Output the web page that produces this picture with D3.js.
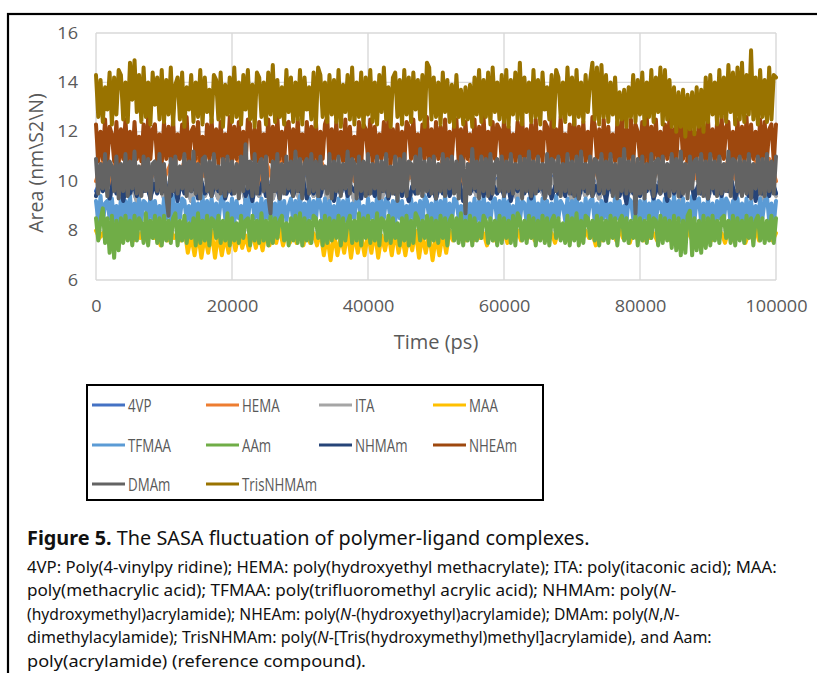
<!DOCTYPE html>
<html><head><meta charset="utf-8">
<script src="https://cdn.jsdelivr.net/npm/d3@7"></script>
<style>body{margin:0;background:#fff}svg{display:block}</style>
</head><body>
<svg id="c" width="817" height="673"></svg>
<script>
// ---------------- DATA ----------------
const seriesNames = ["4VP","HEMA","ITA","MAA","TFMAA","AAm","NHMAm","NHEAm","DMAm","TrisNHMAm"];
const seriesColors = ["#4472C4","#ED7D31","#A5A5A5","#FFC000","#5B9BD5","#70AD47","#264478","#9E480E","#636363","#997300"];
const xTickValues = [0,20000,40000,60000,80000,100000];
const yTickValues = [6,8,10,12,14,16];
const timeMax = 100000;

const s4VP = [
9.6,10.2,9.3,10.3,9.5,10.1,9.2,10.2,9.4,10.3,
9.3,10.1,9.5,10.2,9.2,10.3,9.4,10.0,9.3,10.2,
9.5,10.3,9.2,10.1,9.4,10.2,9.3,10.3,9.5,10.1,
9.2,10.2,9.4,10.3,9.3,10.1,9.5,10.2,9.2,10.4,
9.4,10.1,9.3,10.2,9.5,10.3,9.2,10.1,9.4,10.2,
9.3,10.3,9.5,10.1,9.2,10.2,9.4,10.3,9.3,10.1,
9.5,10.2,9.2,10.3,9.4,10.0,9.3,10.2,9.5,10.3,
9.2,10.1,9.4,10.2,9.3,10.3,9.5,10.1,9.2,10.2,
9.4,10.3,9.3,10.1,9.5,10.2,9.2,10.3,9.4,10.1,
9.3,10.2,9.5,10.3,9.2,10.1,9.4,10.2,9.3,10.3,
9.5];
const sHEMA = [
10.0,10.8,9.9,10.9,10.1,10.7,9.8,10.8,10.0,10.9,
10.1,10.7,9.9,10.8,10.0,10.9,10.2,10.7,9.9,10.8,
10.0,10.9,10.1,10.7,9.9,10.8,10.0,10.9,10.1,10.6,
9.9,10.8,10.0,10.9,10.1,10.7,9.9,10.8,10.0,10.9,
10.1,10.7,9.9,10.8,10.0,10.9,10.1,10.7,9.8,10.8,
10.0,10.9,10.1,10.7,9.9,10.8,10.0,11.1,10.1,10.7,
9.9,10.8,10.0,10.9,10.1,10.7,9.9,10.8,10.0,10.9,
10.1,10.7,9.9,10.8,10.0,10.9,10.1,10.7,9.9,10.8,
10.0,10.9,10.1,10.7,9.9,10.8,10.0,10.9,10.1,10.7,
9.9,10.8,10.0,10.9,10.1,10.7,9.9,10.8,10.0,10.9,
10.0];
const sITA = [
9.4,10.1,9.3,10.2,9.5,10.0,9.2,10.1,9.4,10.2,
9.3,10.0,9.5,10.1,9.2,10.2,9.4,10.0,9.3,10.1,
9.5,10.2,9.2,10.0,9.4,10.1,9.3,10.2,9.5,10.0,
9.2,10.1,9.4,10.2,9.3,10.0,9.5,10.1,9.2,10.2,
9.4,10.0,9.3,10.1,9.5,10.2,9.2,10.0,9.4,10.1,
9.3,10.2,9.5,10.0,9.2,10.1,9.4,10.2,9.3,10.0,
9.5,10.1,9.2,10.2,9.4,10.0,9.3,10.1,9.5,10.2,
9.2,10.0,9.4,10.1,9.3,10.2,9.5,10.0,9.2,10.1,
9.4,10.2,9.3,10.0,9.5,10.1,9.2,10.2,9.4,10.0,
9.3,10.1,9.5,10.2,9.2,10.0,9.4,10.1,9.3,10.2,
9.4];
const sMAA = [
8.0,7.7,7.9,7.6,8.1,7.7,7.9,7.6,8.0,7.7,
7.9,7.6,8.0,7.7,8.1,7.6,7.9,7.7,8.0,7.4,
7.9,7.6,8.0,7.7,7.9,7.6,8.1,7.1,7.8,7.0,
7.9,6.9,7.8,7.1,8.0,6.9,7.9,7.0,7.8,7.1,
8.0,7.2,7.9,7.3,7.8,7.2,8.0,7.3,7.9,7.2,
8.0,7.4,7.9,7.5,8.1,7.4,7.9,7.5,8.0,7.5,
7.9,7.4,8.0,7.5,7.9,7.4,8.0,7.0,7.8,6.8,
7.9,7.0,7.8,7.1,8.0,6.9,7.9,7.1,7.8,7.0,
7.9,7.1,8.0,6.9,7.8,7.2,7.9,7.0,8.0,7.1,
7.8,7.0,7.9,7.2,8.0,6.9,7.8,7.1,7.9,6.8,
7.8,7.0,7.9,7.1,8.0,7.6,7.9,7.7,8.0,7.6,
7.9,7.6,8.0,7.7,7.9,7.4,8.1,7.6,7.9,7.7,
8.0,7.5,7.9,7.7,8.0,7.6,7.9,7.7,8.1,7.6,
7.9,7.7,8.0,7.6,7.9,7.5,8.0,7.7,7.9,7.6,
8.1,7.7,7.9,7.6,8.0,7.7,7.9,7.4,8.0,7.6,
7.9,7.7,8.0,7.6,8.1,7.7,7.9,7.5,8.0,7.7,
7.9,7.6,8.0,7.7,7.9,7.6,8.1,7.7,7.9,7.6,
8.0,7.7,7.9,7.6,8.0,7.7,7.9,7.6,8.1,7.7,
7.9,7.6,8.0,7.7,7.9,7.5,8.0,7.6,7.9,7.7,
8.0,7.5,7.9,7.7,8.1,7.6,7.9,7.7,8.0,7.6,
7.9];
const sTFMAA = [
9.2,8.4,9.4,8.3,9.1,9.2,8.5,9.3,8.4,9.0,8.3,9.3,8.5,9.2,8.4,
9.4,8.3,9.1,8.5,9.3,8.4,9.2,9.1,8.3,9.4,8.5,9.2,8.4,9.0,8.3,
9.3,8.5,9.2,8.4,9.4,8.3,9.1,8.5,9.3,9.2,8.4,9.0,8.3,9.3,8.5,
9.1,8.4,9.4,8.3,9.2,8.5,9.3,8.4,9.1,8.3,9.2,9.4,8.5,9.1,8.4,
9.3,8.3,9.2,8.5,9.0,8.4,9.3,8.3,9.4,9.2,8.5,9.1,8.4,9.3,8.3,
9.2,8.5,9.4,8.4,9.1,8.3,9.3,8.5,9.2,8.4,9.0,9.3,8.3,9.2,8.5,
9.4,8.4,9.1,8.3,9.3,8.5,9.2,8.4,9.4,9.1,8.3,9.3,8.5,9.2,8.4,
9.0,8.3,9.3,8.5,9.2,8.4,9.4,8.3,9.1,8.5,9.3,9.2,8.4,9.0,8.3,
9.3,8.5,9.1,8.4,9.4,8.3,9.2,8.5,9.3,9.1,8.4,9.2,8.3,9.4,8.5,
9.2,8.4,9.0,8.3,9.3,8.5,9.1,8.4,9.2,8.3,9.4,9.2,8.5,9.1,8.4,
9.3,8.3,9.2,8.5,9.4,8.4,9.1,8.3,9.3,9.2,8.5,9.0,8.4,9.3,8.3,
9.1,8.5,9.3,8.4,9.2,8.3,9.4,8.5,9.1,8.4,9.2,9.3,8.3,9.2,8.5,
9.4,8.4,9.2,8.3,9.0,8.5,9.3,8.4,9.2,9.1,8.3,9.3,8.5,9.4,8.4,
9.1,8.3,9.3,8.5,9.2,8.4,9.1,8.3,9.4,8.5,9.2,9.0,8.4,9.3,8.3,
9.2,8.5,9.4,8.4,9.1,8.3,9.3,8.5,9.2,9.3,8.4,9.1,8.3,9.2,8.5,
9.3,8.4,9.1,8.3,9.4,8.5,9.2,8.4,9.0,8.3,9.3,9.2,8.5,9.1,8.4,
9.2,8.3,9.3,8.5,9.1,8.4,9.4,8.3,9.2,9.1,8.5,9.3,8.4,9.2,8.3,
9.4,8.5,9.2,8.4,9.3,8.3,9.1,8.5,9.4,8.4,9.2,9.3,8.3,9.1,8.5,
9.3,8.4,9.1,8.3,9.2,8.5,9.4,8.4,9.3,9.1,8.3,9.2,8.5,9.3,8.4,
9.1,8.3,9.3,8.5,9.2,8.4,9.0,8.3,9.3,8.5,9.2,9.4,8.4,9.1,8.3,
9.2];
const sAAm = [
8.5,7.6,8.4,8.9,7.5,8.5,7.1,8.6,6.9,8.4,7.2,8.5,7.5,8.6,7.6,
8.4,7.4,8.6,7.6,8.5,8.3,7.5,8.7,7.4,8.4,7.7,8.6,7.5,8.5,7.4,
8.6,7.6,8.4,7.5,8.5,8.7,7.4,8.4,7.6,8.6,7.5,8.3,7.7,8.5,7.4,
8.7,7.5,8.4,7.6,8.6,7.4,8.5,8.4,7.7,8.6,7.5,8.4,7.6,8.7,7.4,
8.5,7.6,8.3,7.5,8.6,7.7,8.4,8.5,7.4,8.6,7.6,8.4,7.5,8.7,7.6,
8.4,7.4,8.6,7.5,8.5,7.7,8.4,8.6,7.6,8.3,7.4,8.5,7.6,8.6,7.5,
8.7,7.4,8.5,7.6,8.4,7.5,8.6,8.5,7.7,8.4,7.4,8.6,7.5,8.5,7.6,
8.4,7.7,8.6,7.4,8.5,7.6,8.3,8.6,7.5,8.4,7.6,8.7,7.4,8.5,7.7,
8.6,7.5,8.4,7.6,8.7,7.4,8.5,8.4,7.6,8.6,7.5,8.5,7.7,8.3,7.4,
8.5,7.6,8.6,7.4,8.4,7.5,8.7,8.5,7.6,8.4,7.7,8.6,7.4,8.5,7.6,
8.4,7.5,8.6,7.7,8.5,7.4,8.4,8.6,7.6,8.5,7.5,8.7,7.4,8.4,7.6,
8.6,7.4,8.5,7.6,8.3,7.7,8.6,8.4,7.5,8.5,7.6,8.4,7.4,8.6,7.5,
8.5,7.7,8.4,7.5,8.6,7.4,8.7,8.5,7.6,8.4,7.5,8.6,7.7,8.5,7.4,
8.4,7.6,8.6,7.5,8.5,7.4,8.4,8.6,7.7,8.5,7.6,8.3,7.5,8.6,7.4,
8.5,7.6,8.7,7.4,8.4,7.5,8.6,8.5,7.7,8.4,7.6,8.6,7.4,8.5,7.6,
8.4,7.5,8.6,7.7,8.5,7.4,8.4,8.6,7.6,8.5,7.5,8.4,7.7,8.6,7.4,
8.5,7.6,8.4,7.5,8.6,7.7,8.5,8.4,7.4,8.6,7.5,8.5,7.6,8.4,7.3,
8.6,7.2,8.5,7.0,8.4,7.1,8.6,8.8,7.0,8.5,7.2,8.4,7.1,8.6,7.3,
8.5,7.4,8.6,7.6,8.4,7.5,8.5,8.6,7.7,8.4,7.5,8.6,7.4,8.5,7.6,
8.4,7.5,8.6,7.7,8.5,7.4,8.4,8.6,7.6,8.5,7.5,8.4,7.6,8.6,7.5,
8.5];
const sNHMAm = [
9.4,9.9,9.6,9.8,9.3,10.0,9.5,9.9,9.2,9.8,
9.5,9.9,9.4,10.0,9.6,9.8,9.3,9.9,9.5,10.0,
9.6,9.8,9.4,9.9,9.2,10.0,9.5,9.9,9.6,9.8,
9.3,10.0,9.5,9.8,9.4,9.9,9.6,10.0,9.3,9.8,
9.5,9.9,9.6,10.0,9.4,9.8,9.2,9.9,9.5,10.0,
9.4,9.8,9.6,9.9,9.3,10.0,9.5,9.8,9.4,9.9,
9.6,10.0,9.3,9.8,9.5,9.9,9.4,10.0,9.6,9.8,
9.2,9.9,9.5,10.0,9.4,9.8,9.6,9.9,9.3,10.0,
9.5,9.8,9.4,9.9,9.6,10.0,9.3,9.8,9.5,9.9,
9.4,10.0,9.2,9.8,9.5,9.9,9.6,10.0,9.4,9.8,
9.3,9.9,9.5,10.0,9.4,9.8,9.6,9.9,9.2,10.0,
9.5,9.8,9.6,9.9,9.4,10.0,9.3,9.8,9.5,9.9,
9.4,10.0,9.2,9.8,9.6,9.9,9.5,10.0,9.3,9.8,
9.6,9.9,9.4,10.0,9.3,9.8,9.5,9.9,9.4,10.0,
9.5,9.8,9.3,9.9,9.6,10.0,9.4,9.8,9.5,9.9,
9.2,10.0,9.5,9.8,9.4,9.9,9.1,10.0,9.5,9.8,
9.4,9.9,9.6,10.0,9.3,9.8,9.5,9.9,9.2,10.0,
9.5,9.8,9.4,9.9,9.6,10.0,9.3,9.8,9.5,9.9,
9.3,10.0,9.5,9.8,9.4,9.9,9.6,10.0,9.3,9.8,
9.5,9.9,9.4,10.0,9.2,9.8,9.5,9.9,9.4,10.0,
9.5];
const sNHEAm = [
12.3,10.8,12.0,10.9,12.5,10.7,12.2,11.9,10.8,12.4,10.7,12.1,10.9,12.5,10.8,
12.0,10.7,12.4,10.9,11.8,10.8,12.3,10.7,12.6,10.9,12.1,12.3,10.8,11.9,10.7,
12.4,10.9,12.2,10.8,12.5,10.7,11.9,10.9,12.3,10.8,12.6,10.7,12.0,12.2,10.9,
12.4,10.8,11.8,10.7,12.3,10.9,12.5,10.8,12.1,10.7,12.4,10.9,11.9,10.8,12.6,
10.7,12.2,10.9,12.4,10.8,12.0,10.7,12.5,12.3,10.9,12.1,10.8,12.4,10.7,11.9,
10.9,12.5,10.8,12.2,10.7,12.6,10.9,12.0,10.8,12.3,12.4,10.7,12.1,10.9,12.5,
10.8,11.9,10.7,12.4,10.9,12.2,10.8,12.5,10.7,12.0,10.9,12.3,12.6,10.8,12.1,
10.7,12.4,10.9,12.0,10.8,12.5,10.7,12.2,10.9,11.8,10.8,12.4,10.7,12.3,12.1,
10.9,12.5,10.8,12.2,10.7,11.9,10.9,12.4,10.8,12.6,10.7,12.1,10.9,12.3,10.8,
12.0,10.7,12.4,12.2,10.9,12.5,10.8,11.9,10.7,12.3,10.9,12.6,10.8,12.1,10.7,
12.4,10.9,12.2,10.8,12.5,10.7,12.0,10.9,12.3,12.5,10.8,12.1,10.7,12.4,10.9,
11.9,10.8,12.5,10.7,12.2,10.9,12.6,10.8,12.0,10.7,12.4,10.9,12.3,12.1,10.8,
12.5,10.7,12.2,10.9,11.9,10.8,12.4,10.7,12.6,10.9,12.1,10.8,12.3,10.7,12.5,
10.9,12.0,10.8,12.4,12.2,10.7,12.5,10.9,12.1,10.8,12.6,10.7,11.9,10.9,12.3,
10.8,12.5,10.7,12.2,10.9,12.4,10.8,12.0,10.7,12.6,12.3,10.9,12.1,10.8,12.5,
10.7,12.2,10.9,11.9,10.8,12.4,10.7,12.6,10.9,12.1,10.8,12.5,10.7,12.3,12.0,
10.9,12.4,10.8,12.6,10.7,12.2,10.9,12.5,10.8,12.0,10.7,12.3,10.9,12.6,10.8,
12.1,10.7,12.4,12.5,10.9,12.2,10.8,12.6,10.7,12.0,10.9,12.4,10.8,12.3,10.7,
12.5,10.9,12.1,10.8,12.4,10.7,12.6,10.9,12.2,12.4,10.8,12.0,10.7,12.5,10.9,
12.2,10.8,12.6,10.7,12.3,10.9,12.0,10.8,12.5,10.7,12.4,10.9,12.1,12.3,10.8,
12.3];
const sDMAm = [
10.9,9.5,10.7,9.7,11.1,9.4,10.8,10.6,9.6,11.0,9.3,10.7,9.6,11.1,9.4,
10.8,9.7,11.2,9.5,10.6,9.4,11.0,9.6,10.9,9.3,10.7,10.8,9.6,11.1,9.5,
10.7,9.4,8.6,10.9,9.6,11.0,9.5,10.6,9.7,11.1,9.4,10.8,9.6,11.2,9.5,
10.7,9.3,10.9,11.0,9.6,10.8,9.4,11.1,9.7,10.6,9.5,10.9,9.4,11.0,9.6,
10.8,9.5,10.7,9.3,11.0,9.6,11.5,9.7,10.8,9.4,11.1,9.5,10.7,10.9,9.6,
11.0,9.4,8.7,10.8,9.6,11.1,9.3,10.7,9.5,11.0,9.7,10.8,9.4,11.2,9.6,
10.9,9.3,10.7,10.9,9.5,11.1,9.6,10.8,9.4,11.0,9.7,10.6,9.5,11.1,9.3,
10.8,9.6,11.0,9.4,10.7,9.7,11.2,9.5,10.9,10.7,9.3,11.0,9.6,10.8,9.4,
11.1,9.5,10.7,9.7,11.0,9.3,10.8,9.6,11.1,9.4,10.6,9.5,11.0,9.2,10.9,
9.6,11.1,9.4,10.8,10.7,9.7,11.0,9.5,11.3,9.4,10.8,9.6,10.9,9.5,11.0,
9.3,10.7,9.6,11.1,9.4,10.9,9.7,11.0,9.5,10.8,9.3,11.0,10.8,8.7,10.7,
9.5,11.3,9.7,10.8,9.3,11.0,9.6,10.9,9.4,11.1,9.5,10.7,10.9,9.6,11.0,
9.4,10.8,9.6,11.1,9.5,10.7,9.7,11.0,9.3,10.9,9.6,11.2,9.4,10.8,9.5,
11.0,9.7,10.7,9.3,11.1,9.5,10.9,10.8,9.6,11.0,9.4,10.7,9.6,11.1,9.5,
10.8,9.4,11.0,9.3,11.2,9.7,10.7,9.5,11.0,9.4,10.9,10.8,9.6,11.1,9.5,
10.8,9.7,11.1,9.4,10.7,9.3,10.9,9.6,11.3,9.5,10.8,9.6,11.0,8.7,10.9,
9.5,11.0,9.3,10.7,9.7,11.1,9.4,10.8,10.9,9.5,11.0,9.6,10.7,9.4,11.1,
9.6,10.9,9.4,11.2,9.5,10.7,9.3,11.0,9.7,10.8,10.9,9.5,11.1,9.4,10.8,
9.3,11.1,9.7,10.8,9.4,11.0,9.5,10.7,9.6,11.2,9.4,10.9,10.8,9.6,11.0,
9.4,10.8,9.5,11.1,9.3,10.7,9.7,11.0,9.5,10.9,9.4,11.1,9.6,10.8,9.5,
11.0];
const sTrisNHMAm = [
14.3,12.6,14.1,12.4,13.8,12.9,14.4,12.3,14.2,12.7,14.5,14.3,12.5,14.0,12.4,
14.8,13.3,14.9,12.8,14.3,12.4,14.6,12.6,14.0,12.3,14.4,13.1,14.2,12.5,14.5,
12.4,14.1,12.7,14.6,12.3,13.9,14.2,12.5,14.4,12.2,13.8,12.9,14.3,12.4,14.0,
12.6,14.5,12.3,14.2,12.8,13.7,12.4,14.3,14.1,12.5,14.4,12.2,13.9,12.7,14.2,
12.4,14.6,12.6,14.0,12.3,14.3,12.9,14.5,12.5,13.9,12.2,14.4,14.2,12.6,14.0,
12.3,14.4,12.7,14.7,12.4,14.1,12.6,13.8,12.3,14.5,12.8,14.2,12.4,14.0,12.5,
14.5,12.3,14.2,12.9,13.8,12.5,14.4,12.2,14.6,14.3,12.6,14.0,12.4,14.3,12.7,
14.1,12.4,14.5,12.2,13.9,12.8,14.3,12.5,14.6,12.3,14.0,12.6,14.4,12.2,14.2,
12.7,14.5,12.4,14.0,12.3,14.3,12.8,14.6,12.5,13.8,12.2,14.2,14.4,12.6,14.1,
12.3,14.5,12.7,14.2,12.4,14.4,12.9,14.1,12.5,14.3,12.2,14.8,14.6,12.5,14.2,
12.6,14.0,12.3,14.4,12.8,14.1,12.4,13.9,12.2,14.3,12.6,13.7,12.3,13.8,12.5,
13.9,12.2,14.2,12.7,14.5,12.4,14.1,12.6,14.4,12.3,14.6,12.8,14.0,12.5,14.3,
12.4,14.5,12.2,14.1,12.7,14.4,12.5,14.8,12.3,14.2,12.8,14.0,12.4,14.5,12.6,
14.1,12.3,14.4,12.9,13.8,12.5,14.3,12.2,14.5,14.2,12.6,14.0,12.4,14.6,12.7,
14.2,12.3,14.5,12.6,14.0,12.4,14.3,12.8,14.1,14.8,12.5,14.6,12.3,14.7,12.6,
14.3,12.4,14.0,12.7,14.2,12.3,13.6,12.5,13.7,12.2,13.8,12.6,14.3,12.4,14.1,
12.7,14.4,12.3,14.0,12.6,14.5,12.4,14.2,12.8,14.6,12.3,14.5,12.5,14.1,12.2,
13.8,12.0,13.6,12.2,13.7,11.8,13.5,12.1,13.6,11.9,13.8,12.2,13.7,12.0,14.2,
12.4,14.3,12.7,14.0,12.3,14.5,12.6,14.2,12.4,14.7,12.8,14.4,12.3,14.6,12.5,
14.8,12.4,14.3,12.7,15.3,12.5,14.2,12.3,14.5,12.6,14.1,12.4,14.6,12.5,14.3,
14.2];
const seriesValues = [s4VP,sHEMA,sITA,sMAA,sTFMAA,sAAm,sNHMAm,sNHEAm,sDMAm,sTrisNHMAm];

const axisTitleX = "Time (ps)";
const axisTitleY = "Area (nm\\S2\\N)";
const captionTitleBold = "Figure 5.";
const captionTitleRest = " The SASA fluctuation of polymer-ligand complexes.";
const captionLines = [
  [["4VP: Poly(4-vinylpy ridine); HEMA: poly(hydroxyethyl methacrylate); ITA: poly(itaconic acid); MAA:",false]],
  [["poly(methacrylic acid); TFMAA: poly(trifluoromethyl acrylic acid); NHMAm: poly(",false],["N",true],["-",false]],
  [["(hydroxymethyl)acrylamide); NHEAm: poly(",false],["N",true],["-(hydroxyethyl)acrylamide); DMAm: poly(",false],["N",true],[",",false],["N",true],["-",false]],
  [["dimethylacylamide); TrisNHMAm: poly(",false],["N",true],["-[Tris(hydroxymethyl)methyl]acrylamide), and Aam:",false]],
  [["poly(acrylamide) (reference compound).",false]]
];

// ---------------- DRAWING ----------------
const svg = d3.select("#c");
const plot = {left:96, right:776, top:33, bottom:280};
const x = d3.scaleLinear().domain([0,timeMax]).range([plot.left,plot.right]);
const y = d3.scaleLinear().domain([6,16]).range([plot.bottom,plot.top]);
const txtCol = "#595959";
const font = "'Open Sans', 'Noto Sans', sans-serif";

function squeeze(sel, f){
  sel.each(function(){
    const w = this.getComputedTextLength();
    d3.select(this).attr("textLength", w*f).attr("lengthAdjust","spacingAndGlyphs");
  });
}

// outer frame
svg.append("rect").attr("x",8).attr("y",14).attr("width",840).attr("height",700)
  .attr("fill","none").attr("stroke","#000").attr("stroke-width",2.2);

// gridlines
const grid = svg.append("g").attr("stroke","#d9d9d9").attr("stroke-width",1.4);
grid.selectAll(".hy").data(yTickValues).join("line")
  .attr("x1",plot.left).attr("x2",plot.right).attr("y1",d=>y(d)).attr("y2",d=>y(d));
grid.selectAll(".vx").data(xTickValues).join("line")
  .attr("y1",plot.top).attr("y2",plot.bottom).attr("x1",d=>x(d)).attr("x2",d=>x(d));

// series lines
const lines = svg.append("g").attr("fill","none").attr("stroke-linejoin","round").attr("stroke-linecap","round");
seriesValues.forEach((vals,k)=>{
  const gen = d3.line().x((v,i)=>x(i*timeMax/(vals.length-1))).y(v=>y(v));
  lines.append("path").datum(vals).attr("d",gen)
    .attr("stroke",seriesColors[k]).attr("stroke-width",4);
});

// axes
const xAxis = svg.append("g").attr("transform",`translate(0,${plot.bottom})`)
  .call(d3.axisBottom(x).tickValues(xTickValues).tickSize(0).tickPadding(21).tickFormat(d3.format("d")));
const yAxis = svg.append("g").attr("transform",`translate(${plot.left},0)`)
  .call(d3.axisLeft(y).tickValues(yTickValues).tickSize(0).tickPadding(18));
[xAxis,yAxis].forEach(a=>{
  a.select(".domain").remove();
  a.selectAll("text").attr("fill",txtCol).style("font-family",font).style("font-size","16px");
  squeeze(a.selectAll("text"),1.13);
});

// axis titles
svg.append("text").attr("x",436).attr("y",349).attr("text-anchor","middle")
  .attr("fill",txtCol).style("font-family",font).style("font-size","20px").text(axisTitleX);
svg.append("text").attr("transform","translate(43,163) rotate(-90)").attr("text-anchor","middle")
  .attr("fill",txtCol).style("font-family",font).style("font-size","19.5px").text(axisTitleY);

// legend
svg.append("rect").attr("x",87).attr("y",385).attr("width",456).attr("height",115)
  .attr("fill","none").attr("stroke","#000").attr("stroke-width",2);
const colX = [92,206,319,433], rowY = [405,445,484];
const lg = svg.append("g");
seriesNames.forEach((n,i)=>{
  const cx = colX[i%4], cy = rowY[Math.floor(i/4)];
  lg.append("line").attr("x1",cx).attr("x2",cx+33).attr("y1",cy).attr("y2",cy)
    .attr("stroke",seriesColors[i]).attr("stroke-width",2.8);
  lg.append("text").attr("class","lt").attr("x",cx+36).attr("y",cy).attr("dy","0.36em")
    .attr("fill",txtCol).style("font-family",font).style("font-size","18.5px").text(n);
});
squeeze(lg.selectAll("text.lt"),0.72);

// caption (each line scaled horizontally as a whole)
const capFont = "'Noto Sans', 'Open Sans', sans-serif";
function fitLine(t, left, baseline, width){
  const w = t.node().getComputedTextLength();
  t.attr("transform",`translate(${left},${baseline}) scale(${width/w},1)`);
}
const t0 = svg.append("text").attr("x",0).attr("y",0).attr("fill","#111")
  .style("font-family",capFont).style("font-size","20px");
t0.append("tspan").attr("font-weight","bold").text(captionTitleBold);
t0.append("tspan").text(captionTitleRest);
fitLine(t0,27,545,563);

const capW = [750,650,653,685,339];
const capY = [572.5,596,619.5,643,666.5];
captionLines.forEach((segs,i)=>{
  const t = svg.append("text").attr("x",0).attr("y",0).attr("fill","#111")
    .style("font-family",capFont).style("font-size","16.5px");
  segs.forEach(([s,it])=>{
    const sp = t.append("tspan").text(s);
    if(it) sp.attr("font-style","italic");
  });
  fitLine(t,27,capY[i],capW[i]);
});
</script>
</body></html>
